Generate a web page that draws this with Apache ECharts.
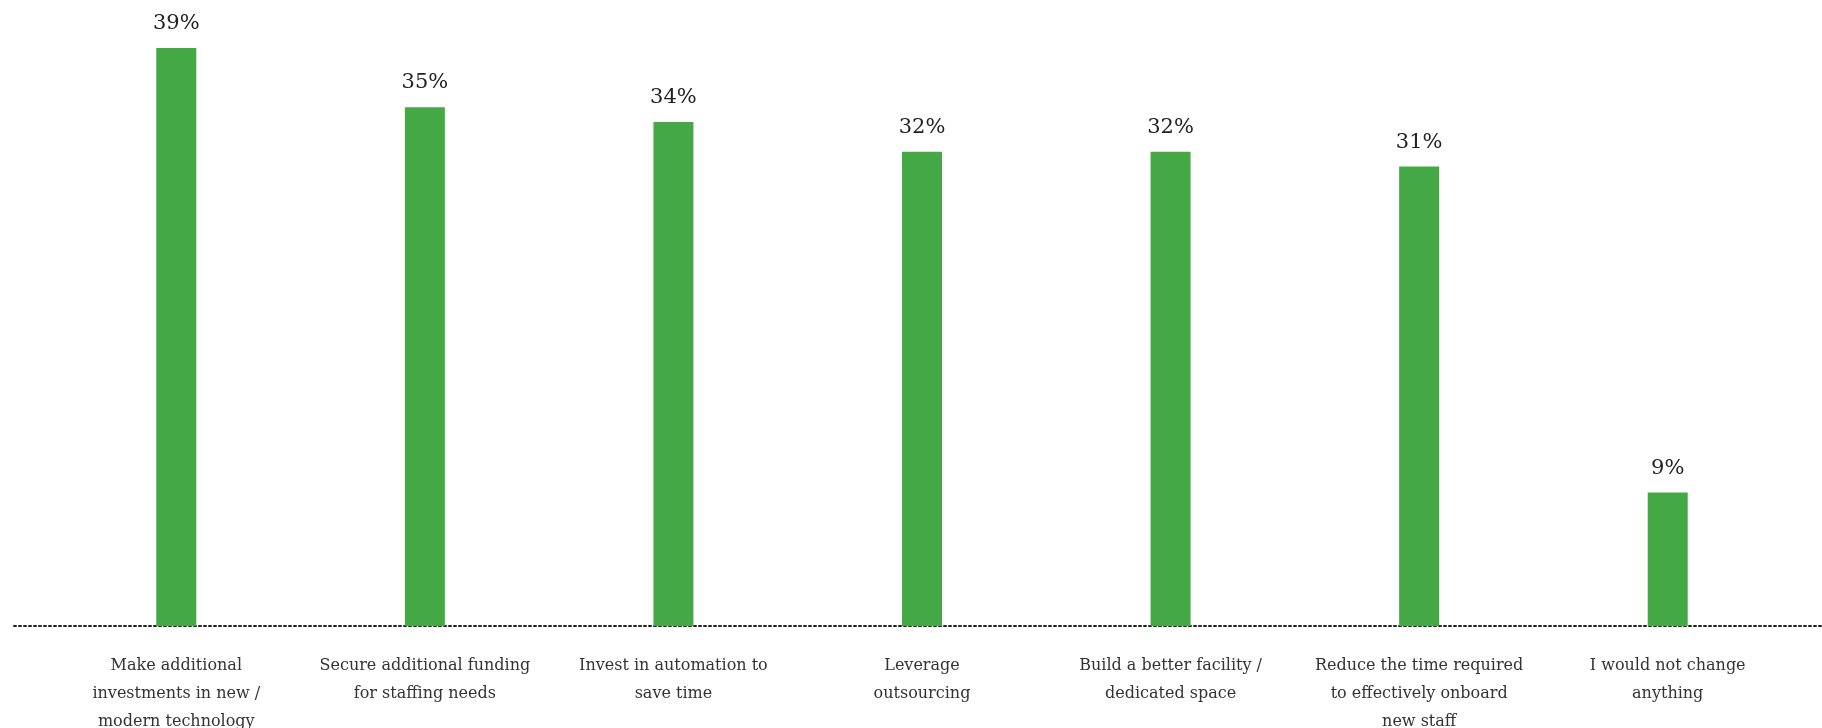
<!DOCTYPE html>
<html>
<head>
<meta charset="utf-8">
<script src="https://cdn.jsdelivr.net/npm/echarts@6/dist/echarts.min.js"></script>
<style>
  html, body { margin: 0; padding: 0; background: #fff; }
  #main { width: 1822px; height: 728px; }
</style>
</head>
<body>
<div id="main"></div>
<script>
// categories (line breaks as in the picture)
var categories = [
  'Make additional\ninvestments in new /\nmodern technology',
  'Secure additional funding\nfor staffing needs',
  'Invest in automation to\nsave time',
  'Leverage\noutsourcing',
  'Build a better facility /\ndedicated space',
  'Reduce the time required\nto effectively onboard\nnew staff',
  'I would not change\nanything'
];
// share of respondents, %
var shares = [39, 35, 34, 32, 32, 31, 9];

var serif = '"DejaVu Serif", "Liberation Serif", serif';

var chartDom = document.getElementById('main');
var myChart = echarts.init(chartDom);

var option = {
  animation: false,
  grid: [
    { left: 52, right: 30, top: 48, bottom: 102, outerBoundsMode: 'none' },
    // full-width grid only used for the dotted baseline
    { left: 14, right: 0, top: 48, bottom: 102, outerBoundsMode: 'none' }
  ],
  xAxis: [
    {
      type: 'category',
      gridIndex: 0,
      data: categories,
      axisLine: { show: false },
      axisTick: { show: false },
      axisLabel: {
        interval: 0,
        margin: 26,
        color: '#333',
        fontFamily: serif,
        fontSize: 16,
        lineHeight: 28
      }
    },
    {
      type: 'value',
      gridIndex: 1,
      min: 0,
      max: 1,
      axisLine: {
        show: true,
        lineStyle: { color: '#222', width: 2, type: [2, 3] }
      },
      axisTick: { show: false },
      axisLabel: { show: false },
      splitLine: { show: false }
    }
  ],
  yAxis: [
    {
      type: 'value',
      gridIndex: 0,
      min: 0,
      max: 39,
      show: false
    },
    {
      type: 'value',
      gridIndex: 1,
      show: false
    }
  ],
  series: [
    {
      type: 'bar',
      data: shares,
      barWidth: 40,
      itemStyle: { color: '#44a944' },
      label: {
        show: true,
        position: 'top',
        distance: 14,
        formatter: '{c}%',
        color: '#222',
        fontFamily: serif,
        fontSize: 21
      },
      z: 3
    }
  ]
};

myChart.setOption(option);
</script>
</body>
</html>
